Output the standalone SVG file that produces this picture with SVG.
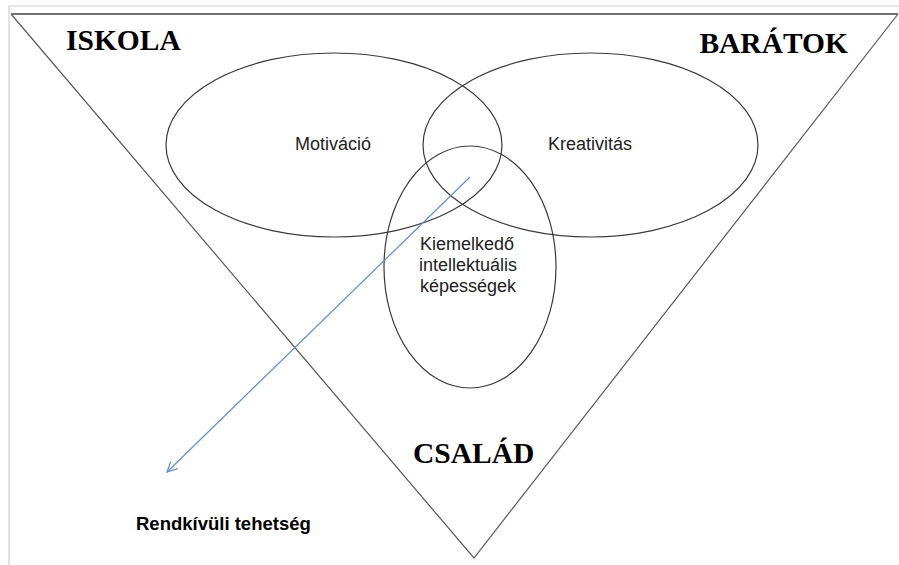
<svg xmlns="http://www.w3.org/2000/svg" width="899" height="565" viewBox="0 0 899 565">
  <style>
    .frame { stroke: #cfcfcf; stroke-width: 1.2; fill: none; }
    .tri { stroke: #5a5a5a; stroke-width: 1.2; fill: none; }
    .tritop { stroke: #707070; stroke-width: 2.2; fill: none; }
    .ell { stroke: #3a3a3a; stroke-width: 1.2; fill: none; }
    .lbl { font-family: "Liberation Serif", "Times New Roman", serif; font-weight: bold; font-size: 29.5px; fill: #000; }
    .txt { font-family: "Liberation Sans", Arial, sans-serif; font-size: 18px; fill: #222; text-anchor: middle; }
    .out { font-family: "Liberation Sans", Arial, sans-serif; font-size: 18.5px; font-weight: bold; fill: #000; }
    .arrow { stroke: #5b8fd4; stroke-width: 1.2; fill: none; }
  </style>
  <defs>
    <marker id="open" viewBox="0 0 12 12" refX="11" refY="6" markerWidth="12" markerHeight="12" markerUnits="userSpaceOnUse" orient="auto">
      <path d="M1,1 L11,6 L1,11" fill="none" stroke="#5b8fd4" stroke-width="1.2"/>
    </marker>
  </defs>
  <rect width="899" height="565" fill="#fff"/>
  <g id="frame">
    <path class="frame" d="M9,565 L9,6 L899,6"/>
  </g>
  <g id="triangle">
    <path class="tri" d="M11,14 L474,558 L898,14"/>
    <line class="tritop" x1="11" y1="14" x2="898" y2="14"/>
    <text class="lbl" x="66" y="50">ISKOLA</text>
    <text class="lbl" x="848" y="53" text-anchor="end">BARÁTOK</text>
    <text class="lbl" x="413" y="463">CSALÁD</text>
  </g>
  <g id="motivacio">
    <ellipse class="ell" cx="334" cy="145" rx="168" ry="92"/>
    <text class="txt" x="333" y="150">Motiváció</text>
  </g>
  <g id="kreativitas">
    <ellipse class="ell" cx="590.5" cy="145" rx="167.5" ry="92"/>
    <text class="txt" x="590" y="150">Kreativitás</text>
  </g>
  <g id="kepessegek">
    <ellipse class="ell" cx="470" cy="267" rx="86" ry="121"/>
    <text class="txt" x="467" y="250">Kiemelkedő</text>
    <text class="txt" x="468" y="271">intellektuális</text>
    <text class="txt" x="468" y="292">képességek</text>
  </g>
  <g id="connectors">
    <line class="arrow" x1="470" y1="177" x2="167" y2="472" marker-end="url(#open)"/>
  </g>
  <g id="tehetseg">
    <text class="out" x="136" y="530">Rendkívüli tehetség</text>
  </g>
</svg>
